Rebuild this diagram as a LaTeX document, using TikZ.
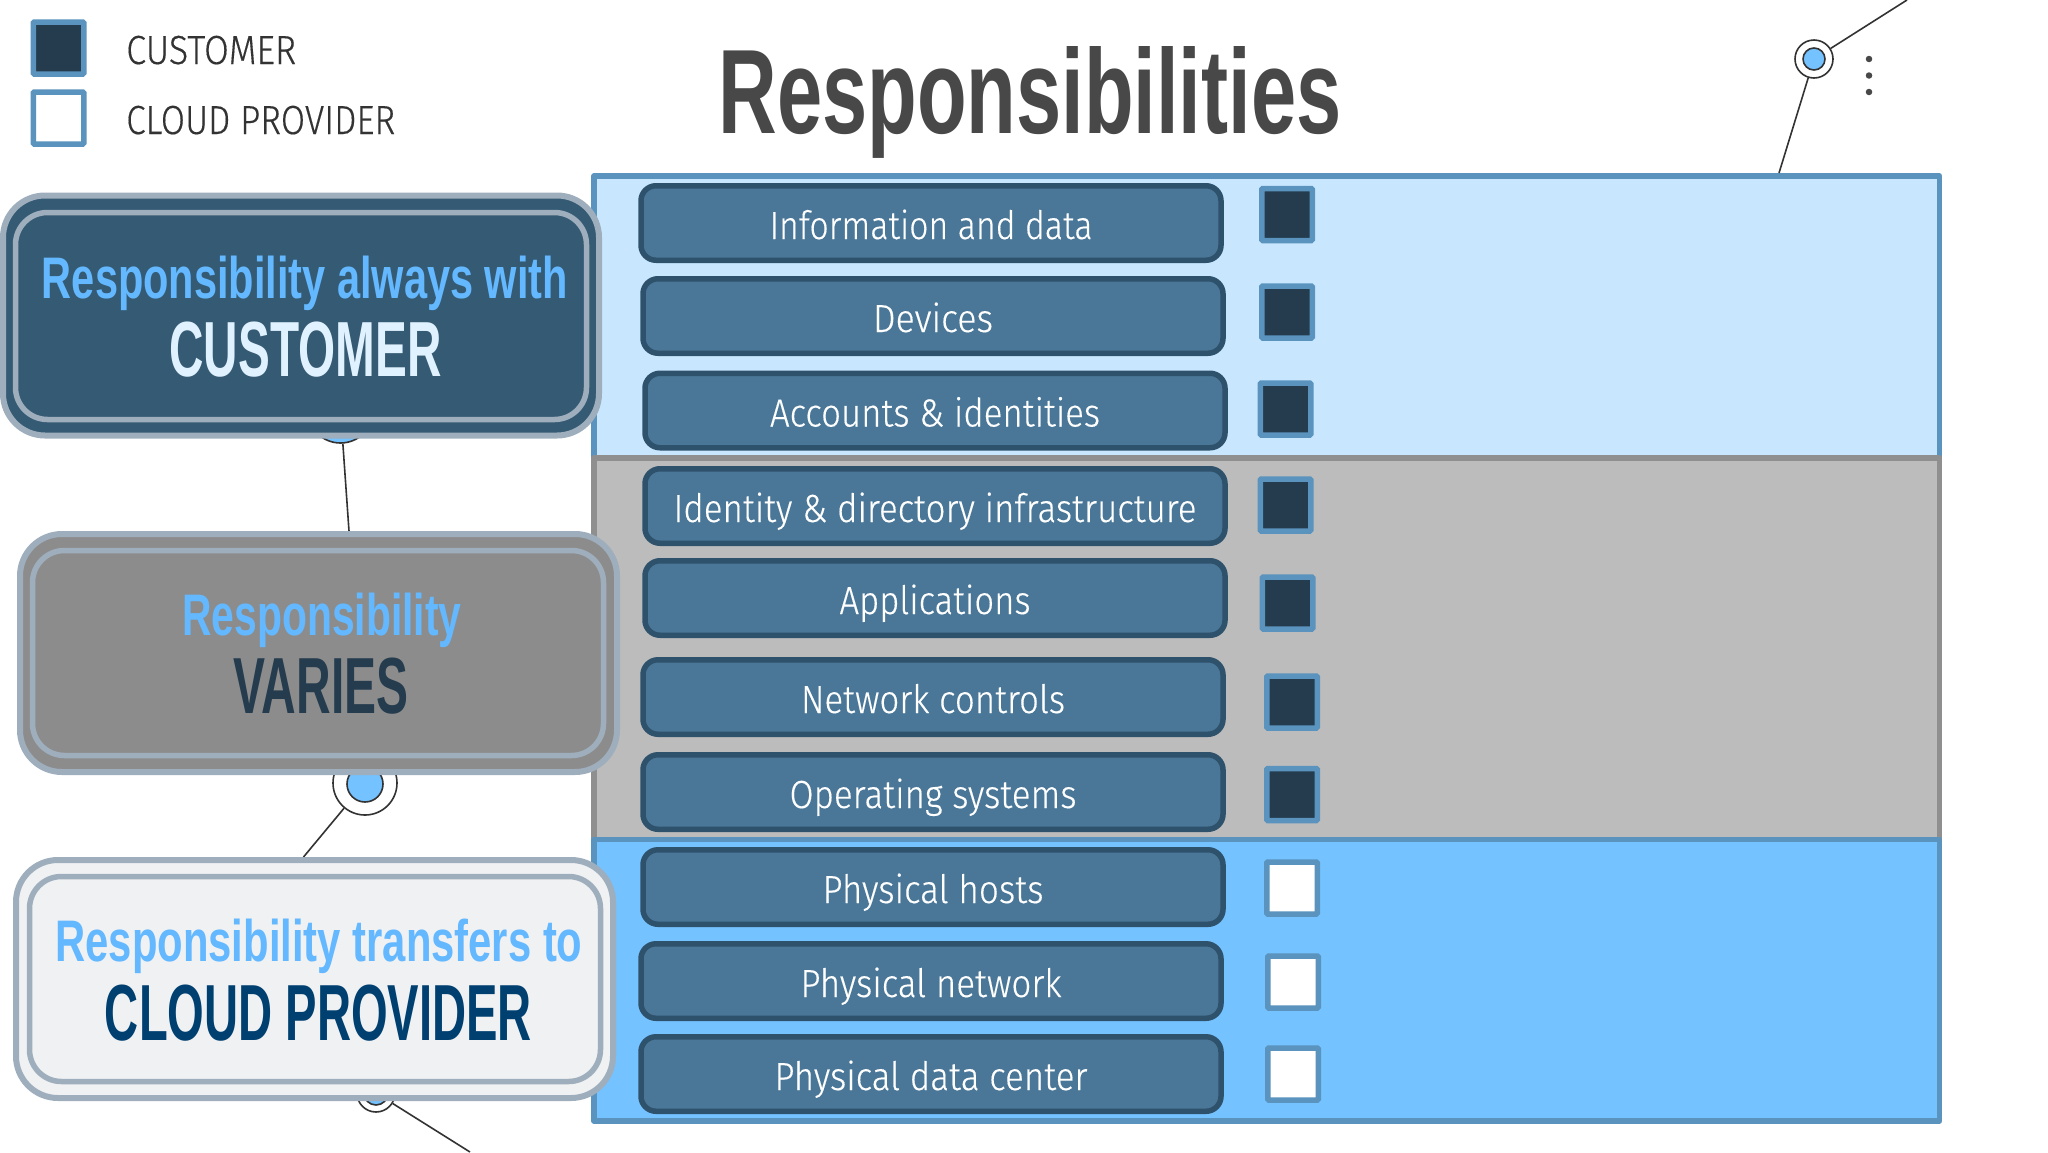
\documentclass[tikz,border=0pt]{standalone}
\usepackage{fontspec}
\usepackage{graphicx}
\setmainfont[FakeBold=0.35]{Fira Sans Light}
\newfontfamily\headfont{Liberation Sans Bold}
\definecolor{bluebd}{HTML}{5A93BD}
\definecolor{graybd}{HTML}{8F8F8F}
\definecolor{lightsec}{HTML}{C8E7FF}
\definecolor{graysec}{HTML}{BCBCBC}
\definecolor{bluesec}{HTML}{74C2FF}
\definecolor{rowfill}{HTML}{4A7798}
\definecolor{rowbd}{HTML}{2F526C}
\definecolor{darkfill}{HTML}{243C4E}
\definecolor{framebd}{HTML}{9EAEBC}
\definecolor{boxa}{HTML}{355A73}
\definecolor{boxb}{HTML}{8C8C8C}
\definecolor{boxc}{HTML}{F0F1F3}
\definecolor{headblue}{HTML}{63B8FF}
\definecolor{headpale}{HTML}{E0F2FF}
\definecolor{headnavy}{HTML}{004070}
\definecolor{inkline}{HTML}{333333}
\definecolor{titleink}{HTML}{484848}
% width, then cap height, then text
\newcommand{\headfit}[3]{\fontsize{\the\dimexpr#2pt*1396/1000\relax}{10pt}\headfont\resizebox{#1pt}{\height}{#3}}
\newcommand{\bodyfit}[3]{\fontsize{\the\dimexpr#2pt*1451/1000\relax}{10pt}\selectfont\resizebox{#1pt}{\height}{#3}}
\tikzset{
  x=1pt,y=-1pt,
  sec/.style={line width=5.5pt,line join=round},
  rowbox/.style={draw=rowbd,fill=rowfill,line width=5.5pt,rounded corners=15pt,minimum width=580pt,minimum height=74.5pt,inner sep=0pt,text height=32pt,text depth=0pt,text=white},
  chk/.style={draw=bluebd,line width=5.5pt,rounded corners=1pt,minimum width=50.5pt,minimum height=52pt,inner sep=0pt},
  cust/.style={chk,fill=darkfill},
  prov/.style={chk,fill=white},
  frameo/.style={draw=framebd,line width=6pt,rounded corners=42pt,inner sep=0pt},
  framei/.style={draw=framebd,line width=5.5pt,rounded corners=32pt,inner sep=0pt},
  lab/.style={anchor=base,inner sep=0pt},
  leglab/.style={anchor=base west,inner sep=0pt,text=inkline},
  conn/.style={draw=inkline,line width=1.6pt},
  ringo/.style={circle,draw=inkline,fill=white,line width=1.6pt,inner sep=0pt},
  ringi/.style={circle,draw=inkline,fill=bluesec,line width=1.6pt,inner sep=0pt},
  dotm/.style={circle,fill=titleink,inner sep=0pt,minimum size=6.5pt},
}
\begin{document}
\begin{tikzpicture}
\useasboundingbox (0,0) rectangle (2048,1152);
\fill[white] (0,0) rectangle (2048,1152);
% table sections
\draw[sec,draw=bluebd,fill=lightsec] (594,176) rectangle (1939.5,458);
\draw[sec,draw=graybd,fill=graysec] (594,458) rectangle (1939.5,839.5);
\draw[sec,draw=bluebd,fill=bluesec] (594,839.5) rectangle (1939.5,1121);
% legend
\node[cust] (legc) at (58.5,48) {};
\node[prov] (legp) at (58.5,118) {};
\node[leglab] (legct) at (126,64) {\bodyfit{170}{28}{CUSTOMER}};
\node[leglab] (legpt) at (126,134) {\bodyfit{269}{28}{CLOUD PROVIDER}};
% title
\node[lab,text=titleink] (title) at (1030,133) {\headfit{623}{86}{Responsibilities}};
% rows
\node[rowbox] (r1) at (931,223) {\bodyfit{323}{27}{Information and data}};
\node[rowbox] (r2) at (933,316) {\bodyfit{120}{27}{Devices}};
\node[rowbox] (r3) at (935,410.5) {\bodyfit{330}{27}{Accounts \& identities}};
\node[rowbox] (r4) at (935,506) {\bodyfit{523}{27}{Identity \& directory infrastructure}};
\node[rowbox] (r5) at (935,598) {\bodyfit{191}{27}{Applications}};
\node[rowbox] (r6) at (933,697) {\bodyfit{264}{27}{Network controls}};
\node[rowbox] (r7) at (933,792) {\bodyfit{287}{27}{Operating systems}};
\node[rowbox] (r8) at (933,887) {\bodyfit{221}{27}{Physical hosts}};
\node[rowbox] (r9) at (931,981) {\bodyfit{261}{27}{Physical network}};
\node[rowbox] (r10) at (931,1074) {\bodyfit{313}{27}{Physical data center}};
% checks
\node[cust] (c1) at (1287,214.5) {};
\node[cust] (c2) at (1287,312) {};
\node[cust] (c3) at (1285.5,409) {};
\node[cust] (c4) at (1285.5,505) {};
\node[cust] (c5) at (1287.5,603) {};
\node[cust] (c6) at (1292,702) {};
\node[cust] (c7) at (1292,794.5) {};
\node[prov] (c8) at (1292,888) {};
\node[prov] (c9) at (1293,982) {};
\node[prov] (c10) at (1293,1074) {};
% connector ends
\coordinate (pa) at (349,531);
\coordinate (pb) at (303.5,857);
\coordinate (pc) at (470,1152);
\coordinate (pd) at (1907,0);
\coordinate (pe) at (1779,173);
% rings
\node[ringi,minimum size=66pt] (ra) at (340.5,410) {};
\node[ringo,minimum size=64pt] (rb) at (365,783) {};
\node[ringi,minimum size=36pt] (rbi) at (365,784) {};
\node[ringo,minimum size=38pt] (rc) at (376,1093) {};
\node[ringi,minimum size=24pt] (rci) at (376,1093) {};
\node[ringo,minimum size=38pt] (rd) at (1814,59) {};
\node[ringi,minimum size=22pt] (rdi) at (1814,59) {};
\node[dotm] (d1) at (1869,59) {};
\node[dotm] (d2) at (1869,75.5) {};
\node[dotm] (d3) at (1869,92) {};
\draw[conn] (ra) -- (pa);
\draw[conn] (rb) -- (pb);
\draw[conn] (rc) -- (pc);
\draw[conn] (rd) -- (pd);
\draw[conn] (rd) -- (pe);
% big boxes
\node[frameo,fill=boxa,minimum width=596pt,minimum height=240pt] (ba) at (301,315.5) {};
\node[framei,minimum width=571pt,minimum height=207pt] (bai) at (301,316) {};
\node[lab,text=headblue] (bat) at (305,298) {\headfit{526}{42}{Responsibility always with}};
\node[lab,text=headpale] (bab) at (305.5,376.5) {\headfit{272}{56}{CUSTOMER}};
\node[frameo,fill=boxb,minimum width=597pt,minimum height=238pt] (bb) at (318.5,653) {};
\node[framei,minimum width=571pt,minimum height=205pt] (bbi) at (318,653) {};
\node[lab,text=headblue] (bbt) at (322,635) {\headfit{279}{42}{Responsibility}};
\node[lab,text=darkfill] (bbb) at (321,713.5) {\headfit{175}{57}{VARIES}};
\node[frameo,fill=boxc,minimum width=597pt,minimum height=238pt] (bc) at (314.5,979) {};
\node[framei,minimum width=571pt,minimum height=205pt] (bci) at (315,979) {};
\node[lab,text=headblue] (bct) at (319,961) {\headfit{527}{42}{Responsibility transfers to}};
\node[lab,text=headnavy] (bcb) at (318.5,1040.5) {\headfit{427}{57}{CLOUD PROVIDER}};
\end{tikzpicture}
\end{document}
